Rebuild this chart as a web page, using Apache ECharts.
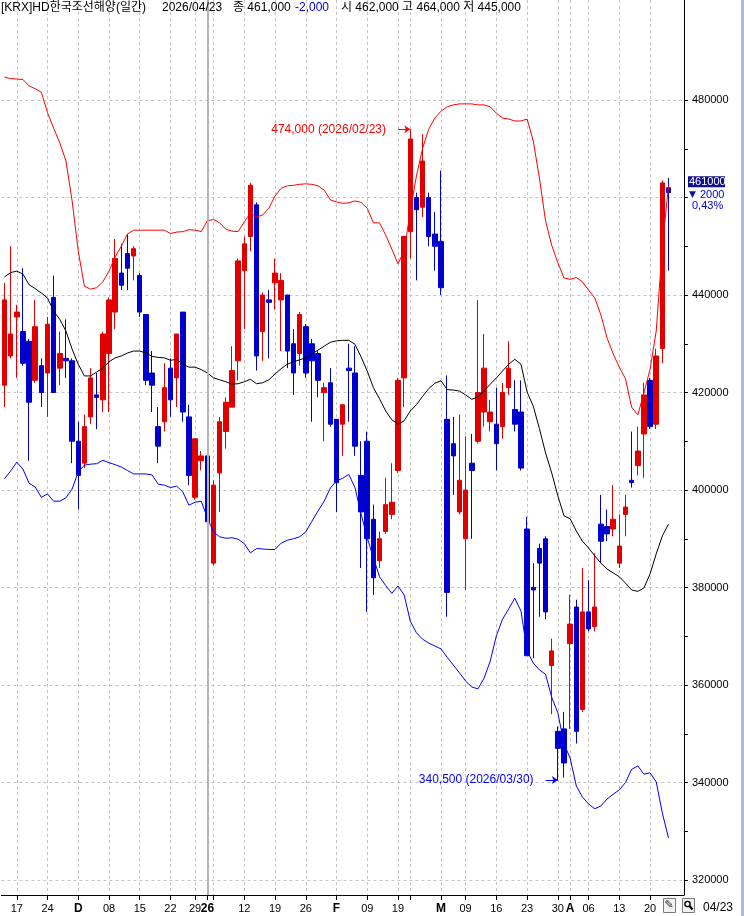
<!DOCTYPE html>
<html>
<head>
<meta charset="utf-8">
<script src="https://cdn.jsdelivr.net/npm/echarts@6/dist/echarts.min.js"></script>
<style>
html,body{margin:0;padding:0;background:#fff;}
#chart{width:744px;height:916px;}
</style>
</head>
<body>
<div id="chart"></div>
<script>
// 일봉 데이터 (2025/11/13 ~ 2026/04/23)
var dates = [
  '2025-11-13','2025-11-14','2025-11-17','2025-11-18','2025-11-19','2025-11-20','2025-11-21','2025-11-24','2025-11-25','2025-11-26',
  '2025-11-27','2025-11-28','2025-12-01','2025-12-02','2025-12-03','2025-12-04','2025-12-05','2025-12-08','2025-12-09','2025-12-10',
  '2025-12-11','2025-12-12','2025-12-15','2025-12-16','2025-12-17','2025-12-18','2025-12-19','2025-12-22','2025-12-23','2025-12-24',
  '2025-12-26','2025-12-29','2025-12-30','2026-01-02','2026-01-05','2026-01-06','2026-01-07','2026-01-08','2026-01-09','2026-01-12',
  '2026-01-13','2026-01-14','2026-01-15','2026-01-16','2026-01-19','2026-01-20','2026-01-21','2026-01-22','2026-01-23','2026-01-26',
  '2026-01-27','2026-01-28','2026-01-29','2026-01-30','2026-02-02','2026-02-03','2026-02-04','2026-02-05','2026-02-06','2026-02-09',
  '2026-02-10','2026-02-11','2026-02-12','2026-02-13','2026-02-19','2026-02-20','2026-02-23','2026-02-24','2026-02-25','2026-02-26',
  '2026-02-27','2026-03-03','2026-03-04','2026-03-05','2026-03-06','2026-03-09','2026-03-10','2026-03-11','2026-03-12','2026-03-13',
  '2026-03-16','2026-03-17','2026-03-18','2026-03-19','2026-03-20','2026-03-23','2026-03-24','2026-03-25','2026-03-26','2026-03-27',
  '2026-03-30','2026-03-31','2026-04-01','2026-04-02','2026-04-03','2026-04-06','2026-04-07','2026-04-08','2026-04-09','2026-04-10',
  '2026-04-13','2026-04-14','2026-04-15','2026-04-16','2026-04-17','2026-04-20','2026-04-21','2026-04-22','2026-04-23'
];
var openP = [
  421500,427500,435500,432500,430500,422500,425500,424000,439500,425000,
  427000,426500,410000,405500,415000,419500,418500,428000,436500,444500,
  448500,448000,444000,436000,424000,413000,414000,425000,423000,436500,
  415000,398500,406000,407000,385000,403500,412000,417000,426500,445000,
  452000,458500,432500,439000,442500,439000,440000,430000,428000,433500,
  430000,428000,420000,422000,414500,413500,425000,424000,403000,410000,
  394000,385500,391500,395000,404000,423000,453000,460000,458000,460000,
  452500,451000,414500,409500,395500,390000,405500,410000,416000,414000,
  413500,413000,421000,416500,416000,392000,380000,388000,390000,364000,
  350500,351000,368500,376000,355000,375000,372000,393000,392500,392000,
  385000,395000,402000,405000,411500,422500,413500,429000,462000
];
var closeP = [
  439000,432000,436500,426000,418000,433500,420000,434000,420000,428000,
  426500,410000,403000,413000,423000,419000,432000,439000,447500,442000,
  445500,449500,436500,422500,421500,409000,421000,418500,432000,416000,
  403000,410500,407000,393500,401000,414000,418000,424500,447000,450500,
  462500,427500,440000,438500,444500,443000,428500,424000,436000,424000,
  426500,422500,421000,413500,401500,417500,424500,409000,395500,390000,
  382000,390000,397000,397500,422500,452000,472000,457500,467500,452000,
  450000,441500,379000,407000,402000,400000,404000,420000,425000,416000,
  409500,420000,425000,413500,404500,366000,379500,385000,375000,367000,
  347000,344000,372500,350500,375000,371500,376000,389500,391000,394000,
  388500,396500,401500,408000,419500,413000,427500,463000,461000
];
var lowP = [
  417000,427000,423000,425500,406000,422000,417000,415000,420000,421500,
  423000,405500,396000,404500,413500,412500,416000,416000,433000,441000,
  441000,443000,435500,421500,416000,405500,412000,415000,417000,414000,
  401000,398000,404000,392000,384500,395500,408500,417000,422500,433000,
  449000,424500,426500,427000,437000,428500,425000,419500,425500,423000,
  414000,419000,410000,413000,395500,407000,414000,407000,384000,375000,
  378500,384000,391000,394000,403500,417000,447500,443000,456000,450000,
  445000,440000,374000,399000,395000,379500,390000,409500,413000,412000,
  404000,410500,419500,412000,404000,366000,365500,374000,373500,354000,
  340500,341000,351000,348000,354500,371000,371000,385000,389500,390500,
  384000,390500,400500,403000,402500,412500,412500,426000,445000
];
var highP = [
  442500,450000,438000,445500,431000,439000,427000,435500,444000,432500,
  435000,427000,414000,415500,425000,424000,432500,439500,451500,450500,
  452500,450000,444500,436000,428500,417000,426000,427000,432000,436500,
  417500,410500,408000,407000,402000,415000,419000,429500,447500,452000,
  463000,459000,440500,441000,447500,444500,440000,433000,436500,434000,
  431000,428500,422000,425000,414500,417500,430000,429500,410000,412000,
  397000,391500,402500,405500,423000,452000,474000,461000,473000,461000,
  457000,465500,423500,415000,415500,411000,411500,439000,432000,418500,
  421000,422000,430500,422500,422500,394500,385000,389000,390500,369500,
  351500,354500,378500,377500,384000,381500,387000,399000,396000,401000,
  395000,399000,412000,413000,422000,423000,429000,463500,464000
];
// 볼린저 밴드 (상한 / 중심 / 하한)
var bbUpper = [
  484700,484400,484300,484200,482900,482300,481600,477400,474200,471200,
  467500,459300,449000,441800,441200,441500,442700,444900,447800,450000,
  452500,453300,453300,453300,453300,453300,453300,452600,452900,453000,
  453400,453300,453000,455200,455500,454800,453500,453100,453000,455000,
  456800,456000,456400,457800,460300,461900,462400,462500,462700,462800,
  462700,462400,461500,459500,459100,458800,458900,459300,459000,457800,
  454800,454800,452300,449400,446400,449000,457200,464400,470100,474000,
  476300,477700,478600,479000,479200,479200,479200,479000,479000,478600,
  477300,476300,476100,475700,475700,476100,471600,464000,455200,450200,
  446600,443500,443200,443600,442700,441000,439400,435900,431200,427900,
  425200,422800,417000,415400,419900,424800,432600,450000,462400
];
var bbMiddle = [
  443700,444600,444900,444300,442100,441300,440400,439400,436700,435000,
  432600,428900,425800,423400,423400,424200,425000,426300,427100,427500,
  428100,428500,428500,428100,427400,427200,427100,426600,426800,425800,
  425200,425200,424700,424000,423000,422600,422200,421700,421800,422200,
  422700,421800,422000,422600,423800,424900,425800,426300,426700,427100,
  427900,428700,429500,430300,430600,430700,430700,429900,427300,424400,
  421000,418700,416200,414400,413500,414200,416200,417500,419200,420800,
  421900,422400,420600,420500,420300,419500,418600,419100,420300,421700,
  423000,424400,425800,426800,425800,420100,417200,412600,407600,403500,
  398800,394700,394100,391600,389500,388100,386500,385000,383800,383000,
  382200,380900,379500,379200,379900,382800,386900,390600,393000
];
var bbLower = [
  402300,403900,405700,404300,401400,400600,398500,399200,397700,397700,
  398400,400200,403700,405100,405300,405400,406100,405600,405200,404700,
  404000,403300,403300,403300,403100,401200,401000,400500,400800,399600,
  396900,397500,397700,394300,391400,390400,390100,390200,389900,389000,
  387100,388000,387900,387800,387800,389100,389700,390000,390400,391400,
  393600,395700,397700,400400,401900,402400,403200,400500,395100,390200,
  386100,382200,380400,378800,380300,378500,373100,370700,369400,368600,
  368000,367400,365700,364100,362500,360800,359600,359200,361400,364900,
  370100,373500,375600,377800,375200,367000,364500,363100,362200,357500,
  354300,347900,345000,339300,337000,335600,334600,335200,336600,337600,
  338500,340000,342700,343400,341700,342000,340100,333700,328600
];
// 날짜축 눈금
var tickIdx  = [2,7,12,17,22,27,31,33,34,39,44,49,54,59,64,66,71,75,80,85,90,92,95,100,105];
var tickText = ['17','24','D','08','15','22','29','26','','12','19','26','F','09','19','','M','09','16','23','30','A','06','13','20'];
var boldTicks = [12,33,54,71,92];

var FONT = '"Liberation Sans", "Noto Sans CJK KR", sans-serif';
var RED = '#e00000', BLUE = '#0000cc';

// 오른쪽 여백 2칸
var cats = dates.concat(['', '']);
var ohlc = [];
for (var i = 0; i < dates.length; i++) {
  ohlc.push([openP[i], closeP[i], lowP[i], highP[i]]);
}

var tickMap = {};
for (var t = 0; t < tickIdx.length; t++) tickMap[tickIdx[t]] = tickText[t];
function isTick(idx) { return tickMap.hasOwnProperty(idx); }

// 최고/최저
var iMax = 0, iMin = 0;
for (var k = 1; k < dates.length; k++) {
  if (highP[k] > highP[iMax]) iMax = k;
  if (lowP[k] < lowP[iMin]) iMin = k;
}
function comma(v) { return String(v).replace(/\B(?=(\d{3})+(?!\d))/g, ','); }
function slashDate(d) { return d.replace(/-/g, '/'); }
var yearStart = 0;
for (var y = 1; y < dates.length; y++) {
  if (dates[y].substr(0, 4) !== dates[y - 1].substr(0, 4)) { yearStart = y; break; }
}

var last = dates.length - 1;
var chg = closeP[last] - closeP[last - 1];
var pct = Math.abs(chg) / closeP[last - 1] * 100;

var myChart = echarts.init(document.getElementById('chart'));

var option = {
  animation: false,
  backgroundColor: '#ffffff',
  grid: [
    { left: 1.4, right: 60.1, top: 100, bottom: 36 },
    { left: 1.4, right: 60.1, top: 0, bottom: 21 }
  ],
  xAxis: [
    { type: 'category', gridIndex: 0, data: cats, show: false, boundaryGap: true },
    {
      type: 'category', gridIndex: 1, data: cats, boundaryGap: true,
      axisLine: { show: true, lineStyle: { color: '#000', width: 1 } },
      axisTick: { show: true, alignWithLabel: true, length: 5, interval: isTick, lineStyle: { color: '#000' } },
      axisLabel: {
        interval: isTick, margin: 8, color: '#000', fontSize: 11, fontFamily: FONT,
        formatter: function (val, idx) {
          var s = tickMap[idx] || '';
          if (!s) return '';
          return boldTicks.indexOf(idx) >= 0 ? '{b|' + s + '}' : s;
        },
        rich: { b: { fontWeight: 'bold', fontSize: 12, fontFamily: FONT, color: '#000' } }
      },
      splitLine: { show: true, interval: isTick, alignWithLabel: true, lineStyle: { color: '#c4c4c4', type: [3, 3], width: 1 } }
    }
  ],
  yAxis: [
    {
      type: 'value', gridIndex: 0, position: 'right', min: 320000, max: 480000, interval: 20000,
      axisLine: { show: false },
      axisTick: { show: true, inside: false, length: 4, lineStyle: { color: '#000' } },
      minorTick: { show: true, splitNumber: 2, length: 4, lineStyle: { color: '#000' } },
      axisLabel: {
        margin: 8, color: '#000', fontSize: 11, fontFamily: FONT,
        // 현재가 표시와 겹치는 눈금 값은 숨김
        formatter: function (v) { return Math.abs(v - closeP[last]) < 6000 ? '' : String(v); }
      },
      splitLine: { show: true, lineStyle: { color: '#c4c4c4', type: [3, 3], width: 1 } }
    },
    {
      type: 'value', gridIndex: 1, position: 'right', min: 0, max: 1,
      axisLine: { show: true, lineStyle: { color: '#000', width: 1 } },
      axisTick: { show: false }, axisLabel: { show: false }, splitLine: { show: false }
    }
  ],
  series: [
    {
      type: 'line', xAxisIndex: 1, yAxisIndex: 1, data: [], silent: true,
      markLine: {
        silent: true, symbol: 'none', label: { show: false },
        lineStyle: { color: '#b4b4b4', type: 'solid', width: 2 },
        data: [{ xAxis: dates[yearStart] }]
      }
    },
    {
      name: '상한', type: 'line', xAxisIndex: 0, yAxisIndex: 0, data: bbUpper, clip: false,
      symbol: 'none', lineStyle: { color: '#ff0000', width: 1 }, silent: true
    },
    {
      name: '중심', type: 'line', xAxisIndex: 0, yAxisIndex: 0, data: bbMiddle, clip: false,
      symbol: 'none', lineStyle: { color: '#000000', width: 1 }, silent: true
    },
    {
      name: '하한', type: 'line', xAxisIndex: 0, yAxisIndex: 0, data: bbLower, clip: false,
      symbol: 'none', lineStyle: { color: '#0000ff', width: 1 }, silent: true
    },
    {
      name: '일봉', type: 'candlestick', xAxisIndex: 0, yAxisIndex: 0, data: ohlc, barWidth: 5,
      itemStyle: { color: RED, color0: BLUE, borderColor: RED, borderColor0: BLUE, borderWidth: 1 },
      markLine: {
        silent: true, symbol: ['none', 'arrow'], symbolSize: 6,
        data: [
          [
            { coord: [dates[iMax - 2], highP[iMax]],
              lineStyle: { color: '#ff0000', width: 1, type: 'solid' },
              label: { show: true, position: 'start', distance: 12, color: '#ff0000', fontSize: 12, fontFamily: FONT,
                       formatter: comma(highP[iMax]) + ' (' + slashDate(dates[iMax]) + ')' } },
            { coord: [dates[iMax], highP[iMax]] }
          ],
          [
            { coord: [dates[iMin - 2], lowP[iMin]],
              lineStyle: { color: '#0000ff', width: 1, type: 'solid' },
              label: { show: true, position: 'start', distance: 12, color: '#0000ff', fontSize: 12, fontFamily: FONT,
                       formatter: comma(lowP[iMin]) + ' (' + slashDate(dates[iMin]) + ')' } },
            { coord: [dates[iMin], lowP[iMin]] }
          ]
        ]
      }
    }
  ]
};
myChart.setOption(option);

// 헤더, 현재가 표시, 하단 버튼
var lastY = myChart.convertToPixel({ xAxisIndex: 0, yAxisIndex: 0 }, [last, closeP[last]])[1];
var txt = function (x, yy, s, size, color, family) {
  return { type: 'text', x: x, y: yy, z: 100,
           style: { text: s, fontSize: size, fontFamily: family || FONT, fill: color || '#000', align: 'left', verticalAlign: 'top' } };
};
myChart.setOption({
  graphic: [
    txt(1, 2, '[KRX]HD한국조선해양(일간)', 12),
    txt(162, 2, slashDate(dates[last]), 12),
    txt(233, 2, '종 ' + comma(closeP[last]), 12),
    txt(295, 2, (chg < 0 ? '-' : '+') + comma(Math.abs(chg)), 12, BLUE),
    txt(341, 2, '시 ' + comma(openP[last]) + ' 고 ' + comma(highP[last]) + ' 저 ' + comma(lowP[last]), 12),
    { type: 'rect', z: 100, shape: { x: 688, y: lastY - 16.5, width: 37, height: 11 }, style: { fill: '#10108a' } },
    txt(689, lastY - 16, String(closeP[last]), 11, '#ffffff'),
    txt(689, lastY - 2, '▼', 9, '#10108a', '"DejaVu Sans", sans-serif'),
    txt(700, lastY - 3, String(Math.abs(chg)), 11, BLUE),
    txt(692, lastY + 8, pct.toFixed(2).replace('.', ',') + '%', 11, BLUE),
    { type: 'rect', z: 100, shape: { x: 663.5, y: 898.5, width: 12, height: 14 }, style: { fill: '#f2f2f2', stroke: '#7a7a7a', lineWidth: 1 } },
    txt(664.5, 899.5, '✎', 11, '#333', '"DejaVu Sans", sans-serif'),
    { type: 'rect', z: 100, shape: { x: 682.5, y: 898.5, width: 12, height: 14 }, style: { fill: '#f2f2f2', stroke: '#7a7a7a', lineWidth: 1 } },
    { type: 'circle', z: 101, shape: { cx: 687.5, cy: 904, r: 2.6 }, style: { fill: 'none', stroke: '#000', lineWidth: 1.4 } },
    { type: 'line', z: 101, shape: { x1: 689.5, y1: 906, x2: 692.5, y2: 909.5 }, style: { stroke: '#000', lineWidth: 2 } },
    txt(703, 902, slashDate(dates[last]).substr(5), 12),
    // 오른쪽 창 테두리
    { type: 'rect', z: 100, shape: { x: 741, y: 0, width: 3, height: 916 }, style: { fill: '#a9bcd6' } }
  ]
});
</script>
</body>
</html>
